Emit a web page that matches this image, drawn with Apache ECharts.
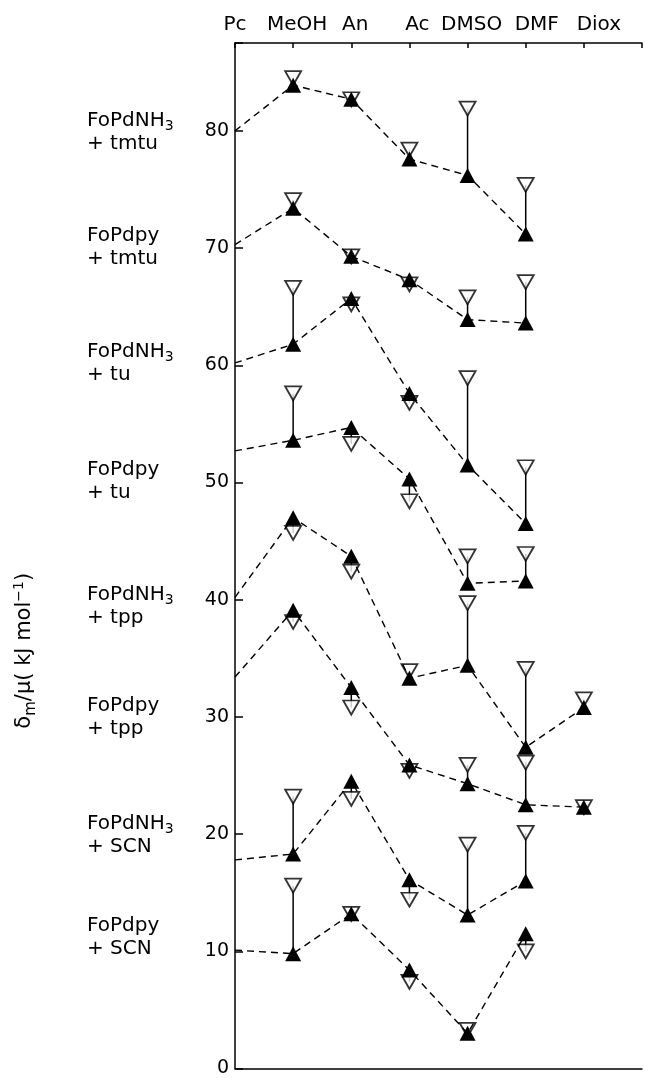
<!DOCTYPE html>
<html>
<head>
<meta charset="utf-8">
<script src="https://cdn.jsdelivr.net/npm/echarts@6/dist/echarts.min.js"></script>
<style>
  html, body { margin: 0; padding: 0; background: #fff; }
  #main { width: 645px; height: 1078px; }
</style>
</head>
<body>
<div id="main"></div>
<script>
// solvents along the top axis (index = x position)
var solvents = ['Pc', 'MeOH', 'An', 'Ac', 'DMSO', 'DMF', 'Diox'];

// complexes + ligands, top to bottom
var complexes = ['FoPdNH3', 'FoPdpy', 'FoPdNH3', 'FoPdpy', 'FoPdNH3', 'FoPdpy', 'FoPdNH3', 'FoPdpy'];
var ligands = ['tmtu', 'tmtu', 'tu', 'tu', 'tpp', 'tpp', 'SCN', 'SCN'];

// filled triangles (joined by dashed line), open triangles, null = no point
var nh3TmtuFilled = [80.0, 83.9, 82.7, 77.6, 76.2, 71.2, null];
var nh3TmtuOpen   = [null, 84.5, 82.7, 78.4, 81.9, 75.4, null];
var pyTmtuFilled  = [70.3, 73.4, 69.3, 67.3, 63.9, 63.6, null];
var pyTmtuOpen    = [null, 74.1, 69.3, 66.9, 65.8, 67.1, null];
var nh3TuFilled   = [60.2, 61.8, 65.7, 57.6, 51.5, 46.5, null];
var nh3TuOpen     = [null, 66.6, 65.2, 56.8, 58.9, 51.3, null];
var pyTuFilled    = [52.7, 53.6, 54.7, 50.3, 41.4, 41.6, null];
var pyTuOpen      = [null, 57.6, 53.3, 48.4, 43.7, 43.9, null];
var nh3TppFilled  = [40.2, 47.0, 43.7, 33.3, 34.4, 27.4, 30.8];
var nh3TppOpen    = [null, 45.7, 42.4, 33.9, 39.7, 34.1, 31.5];
var pyTppFilled   = [33.4, 39.1, 32.5, 25.9, 24.3, 22.5, 22.3];
var pyTppOpen     = [null, 38.1, 30.8, 25.4, 25.9, 26.1, 22.3];
var nh3ScnFilled  = [17.8, 18.3, 24.5, 16.1, 13.1, 16.0, null];
var nh3ScnOpen    = [null, 23.2, 23.0, 14.4, 19.1, 20.1, null];
var pyScnFilled   = [10.1,  9.8, 13.2,  8.4,  3.0, 11.5, null];
var pyScnOpen     = [null, 15.6, 13.2,  7.4,  3.3, 10.0, null];

var yTicks = [0, 10, 20, 30, 40, 50, 60, 70, 80];

var filledSets = [nh3TmtuFilled, pyTmtuFilled, nh3TuFilled, pyTuFilled, nh3TppFilled, pyTppFilled, nh3ScnFilled, pyScnFilled];
var openSets = [nh3TmtuOpen, pyTmtuOpen, nh3TuOpen, pyTuOpen, nh3TppOpen, pyTppOpen, nh3ScnOpen, pyScnOpen];

// layout only: vertical nudge of each name block, and shift of each solvent label (px)
var nameShift = [1, 3, 0, 30, 9, 40, -25, -13];
var solventShift = [0, 4, 4, 8, 4, 11, 15];

var FONT = 'DejaVu Sans';
var richText = {
    t: { fontFamily: FONT, fontSize: 20, color: '#000', lineHeight: 23 },
    sub: { fontFamily: FONT, fontSize: 14, color: '#000', padding: [12, 0, 0, 0], lineHeight: 12 },
    sup: { fontFamily: FONT, fontSize: 14, color: '#000', padding: [0, 0, 12, 0], lineHeight: 12 }
};
var nameRich = {
    t: { fontFamily: FONT, fontSize: 21, color: '#000', lineHeight: 24 },
    sub: { fontFamily: FONT, fontSize: 15, color: '#000', padding: [12, 0, 0, 0], lineHeight: 12 },
    sup: { fontFamily: FONT, fontSize: 14, color: '#000', padding: [0, 0, 12, 0], lineHeight: 12 }
};
var solventRich = {};
for (var k = 0; k < solvents.length; k++) {
    solventRich['s' + k] = {
        fontFamily: FONT, fontSize: 20, color: '#000',
        padding: [0, 0, 0, solventShift[k] * 2]
    };
}

function complexLabel(c, l) {
    var m = c.match(/^(.*?)(\d)$/);
    var first = m ? '{t|' + m[1] + '}{sub|' + m[2] + '}' : '{t|' + c + '}';
    return first + '\n{t|+ ' + l + '}';
}

var series = [];
var bars = [];
for (var s = 0; s < filledSets.length; s++) {
    var f = filledSets[s], o = openSets[s];
    var lineData = [], openData = [];
    for (var i = 0; i < solvents.length; i++) {
        if (f[i] != null) {
            if (i === 0) {
                lineData.push({
                    value: [i, f[i]],
                    symbolSize: 0,
                    label: {
                        show: true,
                        position: [-148, nameShift[s]],
                        align: 'left',
                        verticalAlign: 'middle',
                        formatter: complexLabel(complexes[s], ligands[s]),
                        rich: richText
                    }
                });
            } else {
                lineData.push([i, f[i]]);
            }
        }
        if (o[i] != null) {
            openData.push([i, o[i]]);
            if (f[i] != null) bars.push([i, f[i], o[i]]);
        }
    }
    series.push({
        name: complexes[s] + ' + ' + ligands[s],
        type: 'line',
        data: lineData,
        z: 4,
        symbol: 'triangle',
        symbolSize: [16, 15],
        itemStyle: { color: '#000' },
        lineStyle: { color: '#000', width: 1.4, type: [7, 5] },
        label: { show: false },
        emphasis: { disabled: true },
        animation: false
    });
    series.push({
        name: complexes[s] + ' + ' + ligands[s] + ' (open)',
        type: 'scatter',
        data: openData,
        z: 3,
        symbol: 'triangle',
        symbolRotate: 180,
        symbolSize: [16, 14],
        itemStyle: { color: '#fff', borderColor: '#000', borderWidth: 1.8 },
        emphasis: { disabled: true },
        animation: false
    });
}

// solid verticals joining filled and open triangles
series.push({
    type: 'custom',
    z: 2,
    data: bars,
    encode: { x: 0, y: [1, 2] },
    renderItem: function (params, api) {
        var a = api.coord([api.value(0), api.value(1)]);
        var b = api.coord([api.value(0), api.value(2)]);
        return {
            type: 'line',
            shape: { x1: a[0], y1: a[1], x2: b[0], y2: b[1] },
            style: { stroke: '#000', lineWidth: 1.5 }
        };
    },
    animation: false
});

var myChart = echarts.init(document.getElementById('main'));
myChart.setOption({
    backgroundColor: '#fff',
    animation: false,
    grid: { left: 235, right: 0, top: 43, bottom: 5 },
    xAxis: [
        {
            type: 'value',
            position: 'top',
            min: 0,
            max: 7,
            interval: 1,
            axisLine: { onZero: false, lineStyle: { color: '#000', width: 1.5 } },
            axisTick: { inside: true, length: 5, lineStyle: { color: '#000', width: 1.5 } },
            splitLine: { show: false },
            axisLabel: {
                margin: 8,
                formatter: function (v) {
                    return solvents[v] ? '{s' + v + '|' + solvents[v] + '}' : '';
                },
                rich: solventRich
            }
        },
        {
            type: 'value',
            position: 'bottom',
            min: 0,
            max: 7,
            axisLine: { onZero: false, lineStyle: { color: '#000', width: 1.5 } },
            axisTick: { show: false },
            axisLabel: { show: false },
            splitLine: { show: false }
        }
    ],
    yAxis: {
        type: 'value',
        min: 0,
        max: 87.5,
        interval: 10,
        axisLine: { show: true, onZero: false, lineStyle: { color: '#000', width: 1.5 } },
        axisTick: { show: true, inside: true, length: 8, lineStyle: { color: '#000', width: 1.5 } },
        splitLine: { show: false },
        axisLabel: {
            margin: 6,
            color: '#000',
            fontFamily: FONT,
            fontSize: 19,
            formatter: function (v) { return yTicks.indexOf(v) >= 0 ? String(v) : ''; }
        },
        name: '{t|δ}{sub|m}{t|/μ( kJ mol}{sup|−1}{t|)}',
        nameLocation: 'middle',
        nameGap: 198,
        nameTextStyle: {
            padding: [0, 190, 0, 0],
            rich: nameRich
        }
    },
    series: series
});

window.addEventListener('resize', function () {
    myChart.resize();
});
</script>
</body>
</html>
